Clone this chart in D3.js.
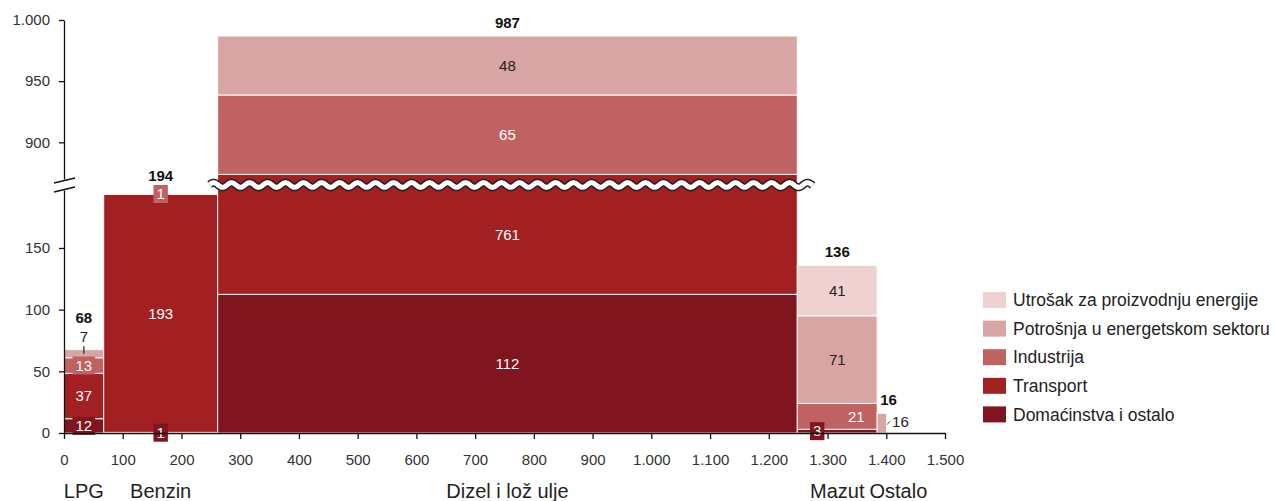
<!DOCTYPE html>
<html>
<head>
<meta charset="utf-8">
<script src="https://cdn.jsdelivr.net/npm/d3@7"></script>
<style>
  body { margin: 0; background: #fff; }
  svg { font-family: "Liberation Sans", Arial, sans-serif; }
</style>
</head>
<body>
<svg id="chart" width="1276" height="501"></svg>
<script>
const categories = ["LPG", "Benzin", "Dizel i lož ulje", "Mazut", "Ostalo"];
const seriesNames = [
  "Domaćinstva i ostalo",
  "Transport",
  "Industrija",
  "Potrošnja u energetskom sektoru",
  "Utrošak za proizvodnju energije",
];
// values per category, same order as categories
const domacinstva = [11.6, 0.5, 112.4, 3, 0];
const transport = [36.8, 193, 761.4, 0, 0];
const industrija = [12.6, 0.5, 64.9, 21, 0];
const potrosnja = [6.6, 0, 48.2, 71, 16];
const utrosak = [0, 0, 0, 41, 0];
const xTicks = [0, 100, 200, 300, 400, 500, 600, 700, 800, 900, 1000, 1100, 1200, 1300, 1400, 1500];
const yTicksLow = [0, 50, 100, 150];
const yTicksHigh = [900, 950, 1000];

const seriesValues = [domacinstva, transport, industrija, potrosnja, utrosak];
const colors = ["#80141f", "#a21f22", "#c06262", "#d9a4a4", "#efd1d1"];
const darkSeries = [true, true, true, false, false];

const fmt = d3.formatLocale({ decimal: ",", thousands: ".", grouping: [3], currency: ["", ""] }).format(",d");

const svg = d3.select("#chart");

// broken y axis: lower part 0..197, upper part 870..1000
const yLow = d3.scaleLinear().domain([0, 197]).range([433, 190]);
const yHigh = d3.scaleLinear().domain([870, 1000]).range([179, 20]);
const y = d3.scaleLinear().domain([0, 197, 870, 1000]).range([433, 190, 179, 20]);
const x = d3.scaleLinear().domain([0, 1500]).range([64, 945]);

// build marimekko layout
let cum = 0;
const bars = categories.map((c, i) => {
  const total = d3.sum(seriesValues, (s) => s[i]);
  let base = 0;
  const segs = seriesValues.map((s, j) => {
    const seg = { series: j, v: s[i], y0: base, y1: base + s[i] };
    base += s[i];
    return seg;
  }).filter((s) => s.v > 0);
  const bar = { name: c, x0: cum, x1: cum + total, total, segs };
  cum += total;
  return bar;
});

// segments
const g = svg.append("g");
bars.forEach((b) => {
  g.selectAll(null)
    .data(b.segs)
    .enter()
    .append("rect")
    .attr("x", x(b.x0))
    .attr("width", x(b.x1) - x(b.x0))
    .attr("y", (d) => y(d.y1))
    .attr("height", (d) => y(d.y0) - y(d.y1))
    .attr("fill", (d) => colors[d.series])
    .attr("stroke", "#fff")
    .attr("stroke-width", 1);
});

// wave across the break in the tall bar
const tall = bars.find((b) => b.total > 197);
const waveX = d3.range(x(tall.x0) - 8, x(tall.x1) + 16, 1.5);
const wave = d3.line().x((d) => d).y((d) => 185 + 2.4 * Math.sin((d - 200) / 18 * 2 * Math.PI));
svg.append("path").attr("d", wave(waveX)).attr("fill", "none").attr("stroke", "#222").attr("stroke-width", 8);
svg.append("path").attr("d", wave(waveX)).attr("fill", "none").attr("stroke", "#fff").attr("stroke-width", 5);

// segment labels
const labels = svg.append("g").attr("font-size", 15);
const boxDx = { "Mazut|0": -20 };
const textDx = { "Mazut|2": 19 };
bars.forEach((b) => {
  const cx = (x(b.x0) + x(b.x1)) / 2;
  const w = x(b.x1) - x(b.x0);
  let top = y(b.total) - 8;
  b.segs.forEach((d) => {
    const key = b.name + "|" + d.series;
    const cy = (y(d.y0) + y(d.y1)) / 2;
    const h = y(d.y0) - y(d.y1);
    const txt = String(Math.round(d.v));
    const tw = txt.length * 8.4;
    if (w < 20) {
      // outside on the right
      const rx = x(b.x1);
      labels.append("line").attr("x1", rx + 0.5).attr("y1", cy + 1.5).attr("x2", rx + 3.5).attr("y2", cy - 2)
        .attr("stroke", "#444").attr("stroke-width", 1);
      labels.append("text").attr("x", rx + 5.5).attr("y", cy - 1).attr("dy", "0.35em").attr("fill", "#222").text(txt);
    } else if (h < 17 && !darkSeries[d.series]) {
      // outside above with leader
      labels.append("line").attr("x1", cx).attr("x2", cx).attr("y1", cy).attr("y2", cy - 7.5)
        .attr("stroke", "#222").attr("stroke-width", 1.2);
      labels.append("text").attr("x", cx).attr("y", cy - 12).attr("text-anchor", "middle").attr("fill", "#222").text(txt);
      top = Math.min(top, cy - 12 - 11 - 8);
    } else if (h < 17) {
      const bx = cx + (boxDx[key] || 0);
      labels.append("rect").attr("x", bx - tw / 2 - 3).attr("width", tw + 6)
        .attr("y", cy - 9).attr("height", 18).attr("fill", colors[d.series]);
      labels.append("text").attr("x", bx).attr("y", cy).attr("dy", "0.35em").attr("text-anchor", "middle")
        .attr("fill", "#fff").text(txt);
      top = Math.min(top, cy - 9 - 4);
    } else {
      labels.append("text").attr("x", cx + (textDx[key] || 0)).attr("y", cy).attr("dy", "0.35em")
        .attr("text-anchor", "middle").attr("fill", darkSeries[d.series] ? "#fff" : "#222").text(txt);
    }
  });
  const tt = fmt(Math.round(b.total));
  const tx = Math.max(cx, x(b.x0) + tt.length * 4.2 + 3);
  labels.append("text").attr("x", tx).attr("y", top).attr("text-anchor", "middle")
    .attr("font-weight", "bold").attr("fill", "#111").text(tt);
});

// axes
const axisStyle = (sel) => {
  sel.selectAll(".domain").attr("stroke", "#111").attr("stroke-width", 1.3);
  sel.selectAll(".tick line").attr("stroke", "#111").attr("stroke-width", 1.3);
  sel.selectAll(".tick text").attr("fill", "#333").attr("font-size", 15).attr("font-family", "Liberation Sans, Arial, sans-serif");
};
svg.append("g").attr("transform", "translate(64,0)")
  .call(d3.axisLeft(yLow).tickValues(yTicksLow).tickFormat(fmt).tickSize(5).tickSizeOuter(0).tickPadding(9))
  .call(axisStyle);
svg.append("g").attr("transform", "translate(64,0)")
  .call(d3.axisLeft(yHigh).tickValues(yTicksHigh).tickFormat(fmt).tickSize(5).tickSizeOuter(0).tickPadding(9))
  .call(axisStyle);
svg.append("g").attr("transform", "translate(0,433)")
  .call(d3.axisBottom(x).tickValues(xTicks).tickFormat(fmt).tickSize(6).tickSizeOuter(0).tickPadding(15))
  .call(axisStyle);

// break marks on the y axis
[180.5, 189.5].forEach((by) => {
  svg.append("line").attr("x1", 54).attr("y1", by + 2.5).attr("x2", 75).attr("y2", by - 2.5)
    .attr("stroke", "#111").attr("stroke-width", 1.3);
});

// category labels, pushed right when they collide
let lastRight = -Infinity;
const catG = svg.append("g").attr("font-size", 20).attr("fill", "#222");
bars.forEach((b) => {
  const t = catG.append("text").attr("y", 498).attr("text-anchor", "middle").text(b.name);
  const tw = t.node().getComputedTextLength();
  let cx = (x(b.x0) + x(b.x1)) / 2;
  if (cx - tw / 2 < lastRight + 5) cx = lastRight + 5 + tw / 2;
  t.attr("x", cx);
  lastRight = cx + tw / 2;
});

// legend
const legend = svg.append("g").attr("transform", "translate(983,292)");
const legendOrder = seriesNames.map((n, i) => i).reverse();
legend.selectAll("rect")
  .data(legendOrder)
  .enter()
  .append("rect")
  .attr("x", 0)
  .attr("y", (d, i) => i * 28.6)
  .attr("width", 23)
  .attr("height", 16)
  .attr("fill", (d) => colors[d]);
legend.selectAll("text")
  .data(legendOrder)
  .enter()
  .append("text")
  .attr("x", 30)
  .attr("y", (d, i) => i * 28.6 + 8)
  .attr("dy", "0.35em")
  .attr("font-size", 17.5)
  .attr("fill", "#222")
  .text((d) => seriesNames[d]);
</script>
</body>
</html>
